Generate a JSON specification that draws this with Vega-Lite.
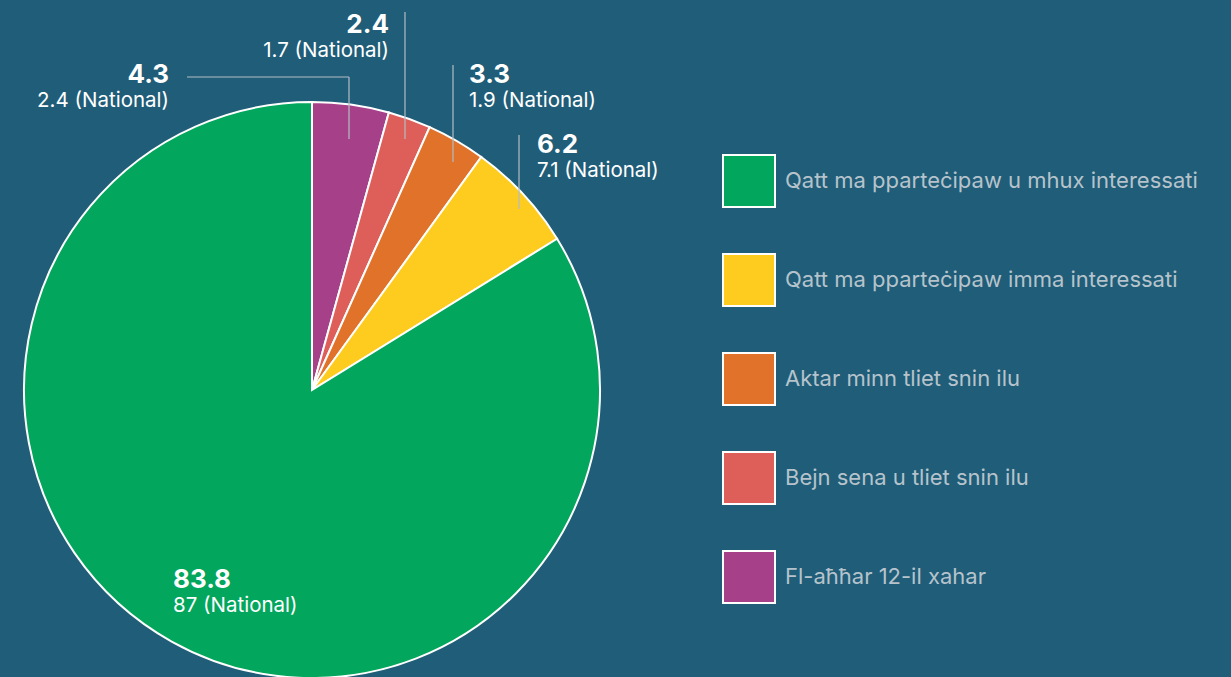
{
  "$schema": "https://vega.github.io/schema/vega-lite/v6.json",
  "width": 1231,
  "height": 677,
  "padding": 0,
  "autosize": {"type": "none"},
  "background": "#1f5d78",
  "config": {"view": {"stroke": null}, "font": "Inter"},
  "datasets": {
    "slices": [
      {"cat": "Fl-aħħar 12-il xahar", "share": 4.3, "national": "2.4 (National)", "ord": 1, "lx": -49.65, "ly": 106.6},
      {"cat": "Bejn sena u tliet snin ilu", "share": 2.4, "national": "1.7 (National)", "ord": 2, "lx": 26.74, "ly": 123.96},
      {"cat": "Aktar minn tliet snin ilu", "share": 3.3, "national": "1.9 (National)", "ord": 3, "lx": 54.51, "ly": 106.6},
      {"cat": "Qatt ma pparteċipaw imma interessati", "share": 6.2, "national": "7.1 (National)", "ord": 4, "lx": 78.13, "ly": 82.29},
      {"cat": "Qatt ma pparteċipaw u mhux interessati", "share": 83.8, "national": "87 (National)", "ord": 5, "lx": -48.26, "ly": -68.75}
    ],
    "leaders": [
      {"x": -43.4, "y": 108.68, "x2": 12.85, "y2": 108.68},
      {"x": 12.85, "y": 108.68, "x2": 12.85, "y2": 87.15},
      {"x": 32.29, "y": 131.25, "x2": 32.29, "y2": 87.15},
      {"x": 48.96, "y": 112.85, "x2": 48.96, "y2": 79.17},
      {"x": 71.88, "y": 88.54, "x2": 71.88, "y2": 62.85}
    ]
  },
  "layer": [
    {
      "data": {"name": "slices"},
      "mark": {"type": "arc", "radius": 288, "stroke": "white", "strokeWidth": 2},
      "encoding": {
        "theta": {"field": "share", "type": "quantitative", "stack": true},
        "order": {"field": "ord", "type": "quantitative"},
        "x": {"datum": 0, "type": "quantitative", "scale": {"domain": [-108.33, 319.1], "nice": false, "zero": false}, "axis": null},
        "y": {"datum": 0, "type": "quantitative", "scale": {"domain": [-99.65, 135.42], "nice": false, "zero": false}, "axis": null},
        "color": {
          "field": "cat",
          "type": "nominal",
          "scale": {
            "domain": ["Qatt ma pparteċipaw u mhux interessati", "Qatt ma pparteċipaw imma interessati", "Aktar minn tliet snin ilu", "Bejn sena u tliet snin ilu", "Fl-aħħar 12-il xahar"],
            "range": ["#02a65c", "#fecc1f", "#e0722a", "#de5e59", "#a64189"]
          },
          "legend": {
            "orient": "none",
            "legendX": 722,
            "legendY": 154,
            "title": null,
            "symbolType": "square",
            "symbolSize": 2704,
            "symbolStrokeColor": "white",
            "symbolStrokeWidth": 2,
            "symbolOpacity": 1,
            "labelFontSize": 22,
            "labelColor": "#b6c3cc",
            "labelFont": "Inter",
            "labelOffset": 9,
            "rowPadding": 39,
            "labelLimit": 600
          }
        }
      }
    },
    {
      "data": {"name": "leaders"},
      "mark": {"type": "rule", "color": "#b4bcc4", "strokeWidth": 1.2},
      "encoding": {
        "x": {"field": "x", "type": "quantitative"},
        "y": {"field": "y", "type": "quantitative"},
        "x2": {"field": "x2"},
        "y2": {"field": "y2"}
      }
    },
    {
      "data": {"name": "slices"},
      "transform": [{"filter": "datum.ord <= 2"}],
      "mark": {"type": "text", "align": "right", "baseline": "alphabetic", "fontSize": 26, "fontWeight": "bold", "color": "white"},
      "encoding": {
        "x": {"field": "lx", "type": "quantitative"},
        "y": {"field": "ly", "type": "quantitative"},
        "text": {"field": "share", "type": "quantitative", "format": ".1f"}
      }
    },
    {
      "data": {"name": "slices"},
      "transform": [{"filter": "datum.ord <= 2"}],
      "mark": {"type": "text", "align": "right", "baseline": "alphabetic", "fontSize": 20.5, "color": "white", "dy": 24},
      "encoding": {
        "x": {"field": "lx", "type": "quantitative"},
        "y": {"field": "ly", "type": "quantitative"},
        "text": {"field": "national", "type": "nominal"}
      }
    },
    {
      "data": {"name": "slices"},
      "transform": [{"filter": "datum.ord > 2"}],
      "mark": {"type": "text", "align": "left", "baseline": "alphabetic", "fontSize": 26, "fontWeight": "bold", "color": "white"},
      "encoding": {
        "x": {"field": "lx", "type": "quantitative"},
        "y": {"field": "ly", "type": "quantitative"},
        "text": {"field": "share", "type": "quantitative", "format": ".1f"}
      }
    },
    {
      "data": {"name": "slices"},
      "transform": [{"filter": "datum.ord > 2"}],
      "mark": {"type": "text", "align": "left", "baseline": "alphabetic", "fontSize": 20.5, "color": "white", "dy": 24},
      "encoding": {
        "x": {"field": "lx", "type": "quantitative"},
        "y": {"field": "ly", "type": "quantitative"},
        "text": {"field": "national", "type": "nominal"}
      }
    }
  ]
}
